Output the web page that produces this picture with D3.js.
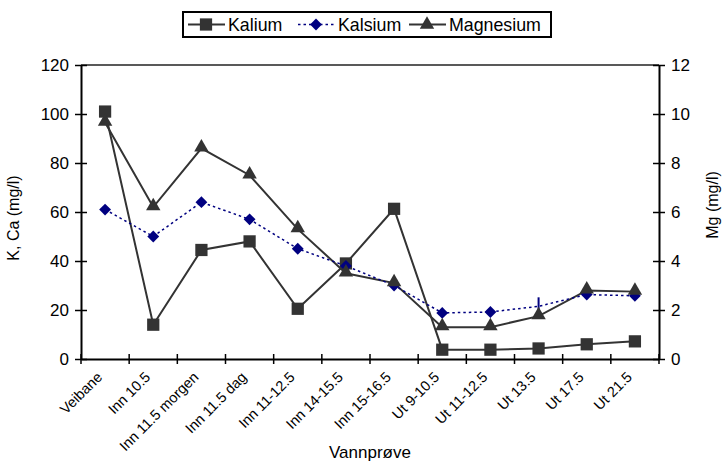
<!DOCTYPE html>
<html>
<head>
<meta charset="utf-8">
<script src="https://cdn.jsdelivr.net/npm/d3@7"></script>
<style>
  body { margin: 0; background: #fff; }
  svg { font-family: "Liberation Sans", Arial, sans-serif; }
</style>
</head>
<body>
<div id="chart"></div>
<script>
            // Data
            var categories = ["Veibane", "Inn 10.5", "Inn 11.5 morgen", "Inn 11.5 dag", "Inn 11-12.5",
                "Inn 14-15.5", "Inn 15-16.5", "Ut 9-10.5", "Ut 11-12.5", "Ut 13.5", "Ut 17.5", "Ut 21.5"];
            var kalium = [101, 14, 44.5, 48, 20.5, 39, 61.3, 3.8, 3.8, 4.3, 6, 7.2];
            var kalsium = [61, 50, 64, 57, 45, 38, 30, 18.8, 19.2, 21.5, 26.3, 25.8];
            var magnesium = [9.65, 6.2, 8.6, 7.5, 5.3, 3.5, 3.1, 1.3, 1.3, 1.75, 2.8, 2.75];
            var leftTicks = [0, 20, 40, 60, 80, 100, 120];
            var rightTicks = [0, 2, 4, 6, 8, 10, 12];

            var w = 723;
            var h = 465;
            var margin = { left: 81, right: 64, top: 65, bottom: 106 };
            var plotW = w - margin.left - margin.right;
            var plotH = h - margin.top - margin.bottom;
            var grey = "#333333";
            var navy = "#000080";

            var xScale = d3.scaleBand()
                .domain(categories)
                .range([0, plotW]);

            var yLeft = d3.scaleLinear()
                .domain([0, 120])
                .range([plotH, 0]);

            var yRight = d3.scaleLinear()
                .domain([0, 12])
                .range([plotH, 0]);

            var svg = d3.select("#chart")
                .append("svg")
                .attr("width", w)
                .attr("height", h);

            var g = svg.append("g")
                .attr("transform", "translate(" + margin.left + "," + margin.top + ")");

            // top border of the plot area
            g.append("line")
                .attr("x1", 0).attr("x2", plotW)
                .attr("y1", 0).attr("y2", 0)
                .attr("stroke", "#222").attr("stroke-width", 1.5);

            // Axes
            var xAxis = d3.axisBottom(xScale).tickSize(5).tickSizeOuter(0).tickFormat("");
            var gx = g.append("g")
                .attr("transform", "translate(0," + plotH + ")")
                .call(xAxis);
            // ticks sit on the band edges, not the centers
            gx.selectAll(".tick").attr("transform", function(d) {
                return "translate(" + xScale(d) + ",0)";
            });
            gx.append("g").attr("class", "tick")
                .attr("transform", "translate(" + plotW + ",0)")
                .append("line");
            gx.selectAll(".tick line").attr("y1", -5).attr("y2", 5).attr("stroke", "#000").attr("stroke-width", 1.5);
            gx.select(".domain").attr("stroke", "#000").attr("stroke-width", 2);

            gx.selectAll(".xlab")
                .data(categories)
                .enter()
                .append("text")
                .attr("class", "xlab")
                .attr("transform", function(d) {
                    return "translate(" + (xScale(d) + xScale.bandwidth() / 2 - 2) + ",19) rotate(-45)";
                })
                .attr("text-anchor", "end")
                .attr("font-size", 14.5)
                .attr("fill", "#000")
                .text(function(d) { return d; });

            var gyl = g.append("g")
                .call(d3.axisLeft(yLeft).tickValues(leftTicks).tickSize(6).tickSizeOuter(0).tickPadding(6));
            gyl.selectAll(".tick line").attr("x1", -6).attr("x2", 6).attr("stroke", "#000").attr("stroke-width", 1.5);
            gyl.select(".domain").attr("stroke", "#000").attr("stroke-width", 2);
            gyl.selectAll(".tick text").attr("font-size", 17).attr("font-family", "Liberation Sans, Arial, sans-serif").attr("fill", "#000");

            var gyr = g.append("g")
                .attr("transform", "translate(" + plotW + ",0)")
                .call(d3.axisRight(yRight).tickValues(rightTicks).tickSize(6).tickSizeOuter(0).tickPadding(6));
            gyr.selectAll(".tick line").attr("x1", -6).attr("x2", 6).attr("stroke", "#000").attr("stroke-width", 1.5);
            gyr.select(".domain").attr("stroke", "#000").attr("stroke-width", 2);
            gyr.selectAll(".tick text").attr("font-size", 17).attr("font-family", "Liberation Sans, Arial, sans-serif").attr("fill", "#000");

            // Axis titles
            svg.append("text")
                .attr("x", 370)
                .attr("y", 458)
                .attr("text-anchor", "middle")
                .attr("font-size", 17)
                .text("Vannprøve");

            svg.append("text")
                .attr("transform", "translate(19,218) rotate(-90)")
                .attr("text-anchor", "middle")
                .attr("font-size", 16)
                .text("K, Ca (mg/l)");

            svg.append("text")
                .attr("transform", "translate(718,205) rotate(-90)")
                .attr("text-anchor", "middle")
                .attr("font-size", 16)
                .text("Mg (mg/l)");

            function cx(i) {
                return xScale(categories[i]) + xScale.bandwidth() / 2;
            }

            var lineLeft = d3.line()
                .x(function(d, i) { return cx(i); })
                .y(function(d) { return yLeft(d); });
            var lineRight = d3.line()
                .x(function(d, i) { return cx(i); })
                .y(function(d) { return yRight(d); });

            // Lines
            g.append("path").datum(magnesium)
                .attr("d", lineRight)
                .attr("fill", "none").attr("stroke", grey).attr("stroke-width", 2);
            g.append("path").datum(kalium)
                .attr("d", lineLeft)
                .attr("fill", "none").attr("stroke", grey).attr("stroke-width", 2);
            g.append("path").datum(kalsium)
                .attr("d", lineLeft)
                .attr("fill", "none").attr("stroke", navy).attr("stroke-width", 1.5)
                .attr("stroke-dasharray", "2.5,3");

            var sq = d3.symbol().type(d3.symbolSquare).size(150);
            var tri = d3.symbol().type(d3.symbolTriangle).size(90);
            var dia = d3.symbol().type(d3.symbolSquare).size(70); // rotated below

            // Kalium squares
            g.selectAll(".kal")
                .data(kalium)
                .enter()
                .append("path")
                .attr("class", "kal")
                .attr("d", sq)
                .attr("transform", function(d, i) {
                    return "translate(" + cx(i) + "," + yLeft(d) + ")";
                })
                .attr("fill", grey);

            // Kalsium diamonds (one sample is drawn only as a thin bar in the original)
            g.selectAll(".kals")
                .data(kalsium)
                .enter()
                .append("path")
                .attr("class", "kals")
                .attr("d", function(d, i) {
                    return categories[i] === "Ut 13.5" ? "M0,-9V9" : dia();
                })
                .attr("transform", function(d, i) {
                    var r = categories[i] === "Ut 13.5" ? "" : " rotate(45)";
                    return "translate(" + cx(i) + "," + yLeft(d) + ")" + r;
                })
                .attr("fill", navy)
                .attr("stroke", function(d, i) {
                    return categories[i] === "Ut 13.5" ? navy : "none";
                })
                .attr("stroke-width", 2);

            // Magnesium triangles
            g.selectAll(".mag")
                .data(magnesium)
                .enter()
                .append("path")
                .attr("class", "mag")
                .attr("d", tri)
                .attr("transform", function(d, i) {
                    return "translate(" + cx(i) + "," + (yRight(d) - 1) + ")";
                })
                .attr("fill", grey);

            // Legend
            var legend = svg.append("g");
            legend.append("rect")
                .attr("x", 183).attr("y", 12)
                .attr("width", 368).attr("height", 25)
                .attr("fill", "#fff").attr("stroke", "#000").attr("stroke-width", 2);

            var items = [
                { name: "Kalium", x: 188, color: grey, dash: null, sym: sq, rot: "" },
                { name: "Kalsium", x: 298, color: navy, dash: "2.5,3", sym: dia, rot: " rotate(45)" },
                { name: "Magnesium", x: 409, color: grey, dash: null, sym: tri, rot: "" }
            ];
            items.forEach(function(it) {
                legend.append("line")
                    .attr("x1", it.x).attr("x2", it.x + 37)
                    .attr("y1", 24.5).attr("y2", 24.5)
                    .attr("stroke", it.color)
                    .attr("stroke-width", it.dash ? 1.5 : 2)
                    .attr("stroke-dasharray", it.dash);
                legend.append("path")
                    .attr("d", it.sym())
                    .attr("transform", "translate(" + (it.x + 18) + ",24.5)" + it.rot)
                    .attr("fill", it.color);
                legend.append("text")
                    .attr("x", it.x + 40)
                    .attr("y", 31)
                    .attr("font-size", 17.8)
                    .text(it.name);
            });
</script>
</body>
</html>
